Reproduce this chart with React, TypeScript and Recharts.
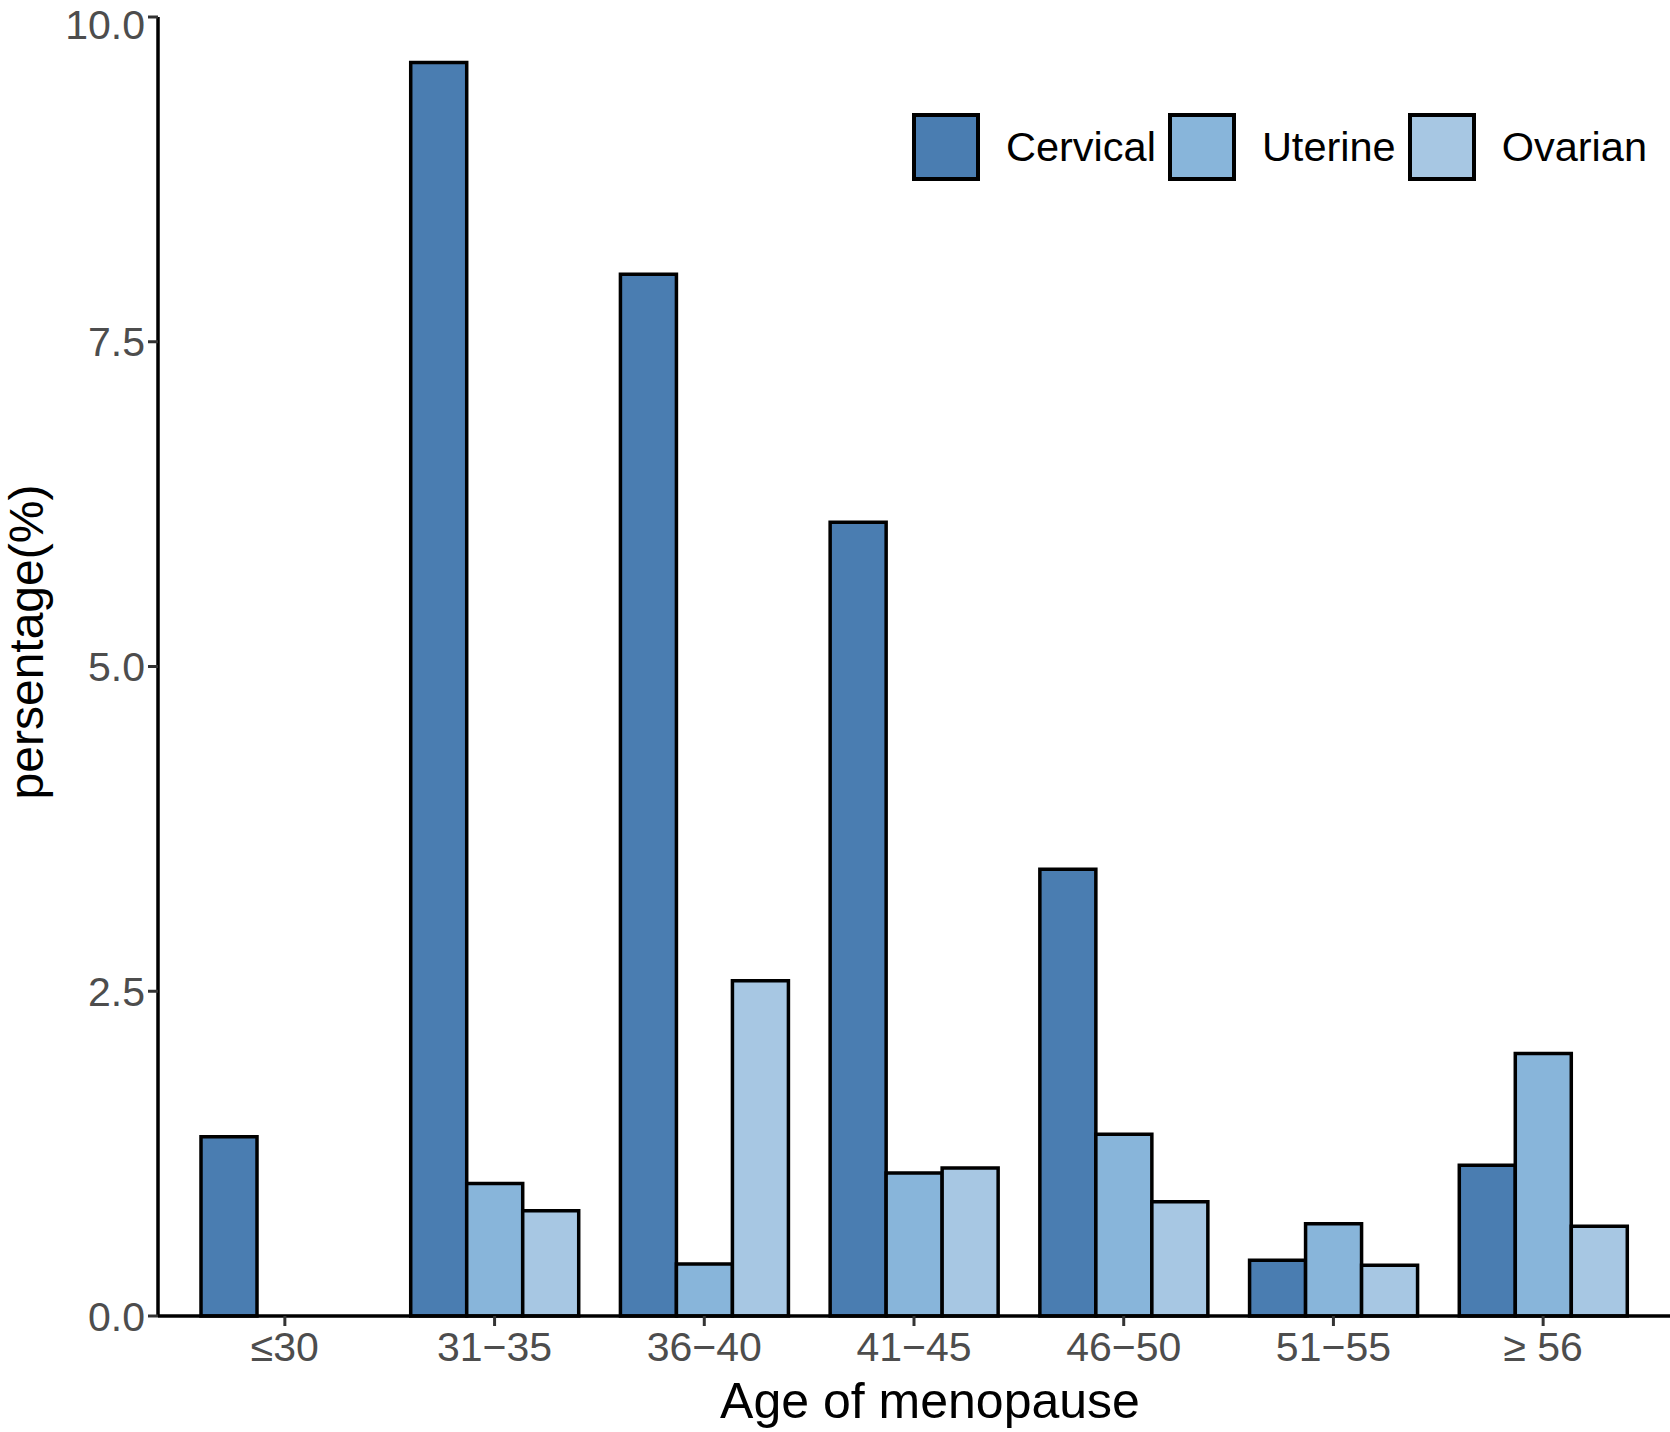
import React from "react";
import { BarChart, Bar, XAxis, YAxis, Legend, Label } from "recharts";

const categories = ["≤30", "31−35", "36−40", "41−45", "46−50", "51−55", "≥ 56"];
const cervical = [1.38, 9.65, 8.02, 6.11, 3.44, 0.43, 1.16];
const uterine = [null, 1.02, 0.4, 1.1, 1.4, 0.71, 2.02];
const ovarian = [null, 0.81, 2.58, 1.14, 0.88, 0.39, 0.69];
const yTicks = [0, 2.5, 5, 7.5, 10];

const series = [
  { key: "Cervical", color: "#4a7db1" },
  { key: "Uterine", color: "#88b5da" },
  { key: "Ovarian", color: "#a7c7e3" },
];

const data = categories.map((age, i) => ({
  age,
  Cervical: cervical[i],
  Uterine: uterine[i],
  Ovarian: ovarian[i],
}));

const FONT = "'Liberation Sans', Arial, Helvetica, sans-serif";

const LegendBox = () => (
  <div style={{ display: "flex", alignItems: "center", fontFamily: FONT }}>
    {series.map((s) => (
      <div key={s.key} style={{ display: "flex", alignItems: "center" }}>
        <div
          style={{
            width: 68,
            height: 68,
            boxSizing: "border-box",
            border: "4px solid #000",
            background: s.color,
          }}
        />
        <span style={{ fontSize: 41.5, color: "#000", marginLeft: 26, marginRight: 12 }}>
          {s.key}
        </span>
      </div>
    ))}
  </div>
);

const tickStyle = { fill: "#4d4d4d", fontSize: 41, fontFamily: FONT };

export default function App() {
  return (
    <div style={{ width: 1670, height: 1432, background: "#fff" }}>
      <style>{`body{margin:0}`}</style>
      <BarChart
        width={1670}
        height={1432}
        data={data}
        margin={{ top: 17, right: 0, bottom: 56, left: 8 }}
        barCategoryGap={21}
        barGap={0}
      >
        <XAxis
          dataKey="age"
          height={60}
          padding={{ left: 22, right: 22 }}
          tick={tickStyle}
          tickSize={10}
          tickMargin={6}
          axisLine={{ stroke: "#000", strokeWidth: 3.5 }}
          tickLine={{ stroke: "#333", strokeWidth: 3 }}
          interval={0}
        >
          <Label
            content={() => (
              <text x={930} y={1418} textAnchor="middle" fontSize={50} fontFamily={FONT} fill="#000">
                Age of menopause
              </text>
            )}
          />
        </XAxis>
        <YAxis
          width={150}
          domain={[0, 10]}
          ticks={yTicks}
          tickFormatter={(v: number) => v.toFixed(1)}
          tick={tickStyle}
          tickSize={10}
          tickMargin={3}
          axisLine={{ stroke: "#000", strokeWidth: 3.5 }}
          tickLine={{ stroke: "#333", strokeWidth: 3 }}
        >
          <Label
            content={() => (
              <text
                x={43}
                y={642}
                transform="rotate(-90, 43, 642)"
                textAnchor="middle"
                fontSize={48}
                fontFamily={FONT}
                fill="#000"
              >
                persentage(%)
              </text>
            )}
          />
        </YAxis>
        <Legend
          content={() => <LegendBox />}
          wrapperStyle={{
            position: "absolute",
            top: 113,
            left: 912,
            width: 0,
            height: 0,
            overflow: "visible",
            whiteSpace: "nowrap",
          }}
        />
        {series.map((s) => (
          <Bar
            key={s.key}
            dataKey={s.key}
            fill={s.color}
            stroke="#000"
            strokeWidth={3.5}
            isAnimationActive={false}
          />
        ))}
      </BarChart>
    </div>
  );
}
